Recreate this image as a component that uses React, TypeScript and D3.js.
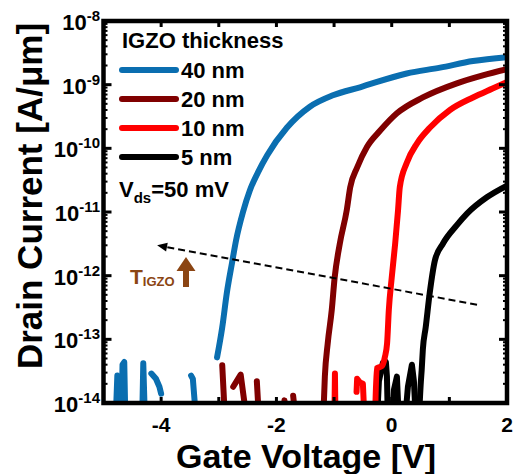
import React from "react";
import * as d3 from "d3";

// ---------- data ----------
const xTickValues = [-4, -2, 0, 2];
const xMinorTicks = [-4, -3, -2, -1, 0, 1];
const yDecades = [-14, -13, -12, -11, -10, -9, -8];

const legendLabels = ["40 nm", "20 nm", "10 nm", "5 nm"];
const seriesColors = ["#0a6eb0", "#800000", "#ff0000", "#000000"];

// 40 nm (blue)
const v40 = [-3.03, -2.94, -2.86, -2.77, -2.7, -2.58, -2.46, -2.32, -2.16, -1.82, -1.42, -1.02, -0.55, 0.26, 0.84, 1.41, 2.0];
const i40 = [5.2e-14, 1.55e-13, 5.4e-13, 1.6e-12, 3.6e-12, 1.0e-11, 2.2e-11, 4.2e-11, 7.8e-11, 2.1e-10, 4.5e-10, 6.8e-10, 9.1e-10, 1.5e-9, 1.85e-9, 2.35e-9, 2.7e-9];
// 20 nm (maroon)
const v20 = [-1.19, -1.16, -1.11, -1.04, -0.99, -0.9, -0.78, -0.72, -0.6, -0.43, -0.2, 0.09, 0.54, 1.13, 1.58, 2.0];
const i20 = [5e-15, 2.6e-14, 8.7e-14, 2.9e-13, 9.3e-13, 3.2e-12, 1.07e-11, 2.45e-11, 5.0e-11, 1.05e-10, 1.9e-10, 3.55e-10, 6.3e-10, 1.05e-9, 1.4e-9, 1.75e-9];
// 10 nm (red)
const v10 = [-0.29, -0.26, -0.17, -0.12, -0.08, -0.05, 0.0, 0.06, 0.11, 0.14, 0.26, 0.44, 0.66, 1.01, 1.41, 1.75, 2.0];
const i10 = [5e-15, 3.5e-14, 3.8e-14, 5.2e-14, 8.7e-14, 2.9e-13, 9.3e-13, 3.2e-12, 1.07e-11, 2.45e-11, 5.9e-11, 1.2e-10, 2.1e-10, 4.0e-10, 6.3e-10, 8.7e-10, 1.1e-9];
// 5 nm (black)
const v5 = [0.47, 0.506, 0.52, 0.54, 0.59, 0.66, 0.75, 0.89, 1.13, 1.31, 1.65, 2.0];
const i5 = [5e-15, 2.2e-14, 3.3e-14, 6.9e-14, 1.55e-13, 5.4e-13, 1.75e-12, 3.2e-12, 6.2e-12, 9.5e-12, 1.7e-11, 2.6e-11];

// noise floor fragments [V list, I list]
const noise40V = [[-4.79, -4.76, -4.74], [-4.69, -4.67, -4.64, -4.62], [-4.33, -4.31, -4.28], [-4.17, -4.09, -4.03, -4.0], [-3.48, -3.45, -3.39]];
const noise40I = [[5e-15, 2.7e-14, 5e-15], [5e-15, 4.0e-14, 4.4e-14, 5e-15], [5e-15, 4.2e-14, 5e-15], [2.9e-14, 2.4e-14, 1.8e-14, 1.4e-14], [2.7e-14, 2.4e-14, 5e-15]];
const noise20V = [[-2.94, -2.89], [-2.75, -2.62, -2.51], [-2.34, -2.3], [-1.9, -1.86, -1.83], [-1.71, -1.66]];
const noise20I = [[3.9e-14, 5e-15], [1.8e-14, 2.8e-14, 5e-15], [2.2e-14, 5e-15], [5e-15, 1.1e-14, 5e-15], [1.3e-14, 5e-15]];
const noise10V = [[-0.995, -0.985, -0.975], [-0.61, -0.6, -0.55, -0.5, -0.47]];
const noise10I = [[5e-15, 2.9e-14, 5e-15], [1.5e-14, 2.4e-14, 2.1e-14, 2.0e-14, 5e-15]];
const noise5V = [[-0.256, -0.222, -0.153, -0.101, -0.083, -0.066], [0.003, 0.038, 0.09, 0.125], [0.229, 0.281, 0.35, 0.385, 0.42]];
const noise5I = [[5e-15, 2.2e-14, 4.3e-14, 4.4e-14, 2.6e-14, 5e-15], [5e-15, 1.6e-14, 2.6e-14, 5e-15], [5e-15, 1.8e-14, 4.0e-14, 2.2e-14, 5e-15]];

// trend arrow (data coords)
const trendFrom = [1.48, 3.5e-13];
const trendTo = [-4.07, 3.0e-12];

// ---------- layout ----------
const W = 520, H = 474;
const left = 103.5, right = 507, top = 21, bottom = 403;
const FONT = "'Liberation Sans', Arial, Helvetica, sans-serif";

export default function App() {
  const x = d3.scaleLinear().domain([-5, 2]).range([left, right]);
  const y = d3.scaleLog().domain([1e-14, 1e-8]).range([bottom, top]);
  const line = d3.line<[number, number]>().x((d) => x(d[0])).y((d) => y(d[1]));
  const smooth = d3.line<[number, number]>().x((d) => x(d[0])).y((d) => y(d[1])).curve(d3.curveMonotoneX);
  const zip = (vs: number[], is: number[]) => vs.map((v, k) => [v, is[k]] as [number, number]);

  const mains = [zip(v40, i40), zip(v20, i20), zip(v10, i10), zip(v5, i5)];
  const noises = [
    noise40V.map((s, k) => zip(s, noise40I[k])),
    noise20V.map((s, k) => zip(s, noise20I[k])),
    noise10V.map((s, k) => zip(s, noise10I[k])),
    noise5V.map((s, k) => zip(s, noise5I[k])),
  ];

  const minor: number[] = [];
  yDecades.slice(0, -1).forEach((d) => {
    for (let m = 2; m <= 9; m++) minor.push(m * Math.pow(10, d));
  });

  // trend arrow geometry
  const ax0 = x(trendFrom[0]), ay0 = y(trendFrom[1]);
  const ax1 = x(trendTo[0]), ay1 = y(trendTo[1]);
  const len = Math.hypot(ax1 - ax0, ay1 - ay0);
  const ux = (ax1 - ax0) / len, uy = (ay1 - ay0) / len;
  const hl = 10, hw = 4.5;
  const bx = ax1 - ux * hl, by = ay1 - uy * hl;
  const head = `${ax1},${ay1} ${bx - uy * hw},${by + ux * hw} ${bx + uy * hw},${by - ux * hw}`;

  return (
    <div style={{ position: "absolute", left: 0, top: 0 }}>
      <svg width={W} height={H} style={{ display: "block", background: "#fff" }} fontFamily={FONT} fontWeight="bold">
        <defs>
          <clipPath id="plot">
            <rect x={left} y={top} width={right - left} height={bottom - top} />
          </clipPath>
        </defs>

        {/* curves */}
        <g clipPath="url(#plot)" fill="none" strokeLinecap="round" strokeLinejoin="round" strokeWidth={6}>
          {noises.map((segs, k) =>
            segs.map((s, j) => <path key={`n${k}-${j}`} d={line(s) || ""} stroke={seriesColors[k]} />)
          )}
          {mains.map((s, k) => (
            <path key={`m${k}`} d={smooth(s) || ""} stroke={seriesColors[k]} />
          ))}
        </g>

        {/* trend arrow */}
        <line x1={ax0} y1={ay0} x2={bx} y2={by} stroke="#000" strokeWidth={2} strokeDasharray="7,4" />
        <polygon points={head} fill="#000" />

        {/* ticks */}
        <g stroke="#000" strokeWidth={3}>
          {xMinorTicks.map((t) => (
            <g key={`xt${t}`}>
              <line x1={x(t)} x2={x(t)} y1={bottom} y2={bottom - 6} />
              <line x1={x(t)} x2={x(t)} y1={top} y2={top + 6} />
            </g>
          ))}
          {yDecades.map((d) => (
            <g key={`yt${d}`}>
              <line x1={left} x2={left + 8} y1={y(Math.pow(10, d))} y2={y(Math.pow(10, d))} />
              <line x1={right} x2={right - 8} y1={y(Math.pow(10, d))} y2={y(Math.pow(10, d))} />
            </g>
          ))}
        </g>
        <g stroke="#000" strokeWidth={2}>
          {minor.map((m, k) => (
            <g key={`ym${k}`}>
              <line x1={left} x2={left + 4} y1={y(m)} y2={y(m)} />
              <line x1={right} x2={right - 4} y1={y(m)} y2={y(m)} />
            </g>
          ))}
        </g>

        {/* frame */}
        <rect x={left} y={top} width={right - left} height={bottom - top} fill="none" stroke="#000" strokeWidth={4.5} />

        {/* tick labels */}
        {xTickValues.map((t) => (
          <text key={`xl${t}`} x={x(t)} y={432} textAnchor="middle" fontSize={21}>
            {t < 0 ? `-${Math.abs(t)}` : `${t}`}
          </text>
        ))}
        {yDecades.map((d) => (
          <text key={`yl${d}`} x={100} y={y(Math.pow(10, d)) + 9} textAnchor="end" fontSize={22}>
            10<tspan dy={-9} fontSize={15}>{`-${Math.abs(d)}`}</tspan>
          </text>
        ))}

        {/* axis titles */}
        <text x={306} y={468} textAnchor="middle" fontSize={34}>Gate Voltage [V]</text>
        <text transform={`translate(42,${(top + bottom) / 2 - 16}) rotate(-90)`} textAnchor="middle" fontSize={35}>
          Drain Current [A/μm]
        </text>

        {/* legend */}
        <text x={122} y={48} fontSize={22}>IGZO thickness</text>
        {legendLabels.map((lab, k) => (
          <g key={`lg${k}`}>
            <line x1={122} x2={176} y1={70 + k * 29} y2={70 + k * 29} stroke={seriesColors[k]} strokeWidth={6} strokeLinecap="round" />
            <text x={181} y={78 + k * 29} fontSize={22}>{lab}</text>
          </g>
        ))}
        <text x={119} y={197} fontSize={22}>
          V<tspan dy={6} fontSize={15}>ds</tspan><tspan dy={-6}>=50 mV</tspan>
        </text>

        {/* T_IGZO annotation */}
        <text x={130} y={284} fontSize={21} fill="#8b4513">
          T<tspan dy={2} fontSize={13}>IGZO</tspan>
        </text>
        <polygon points="183,287 189,287 189,271 195.5,271 186,257 176.5,271 183,271" fill="#8b4513" />
      </svg>
    </div>
  );
}
